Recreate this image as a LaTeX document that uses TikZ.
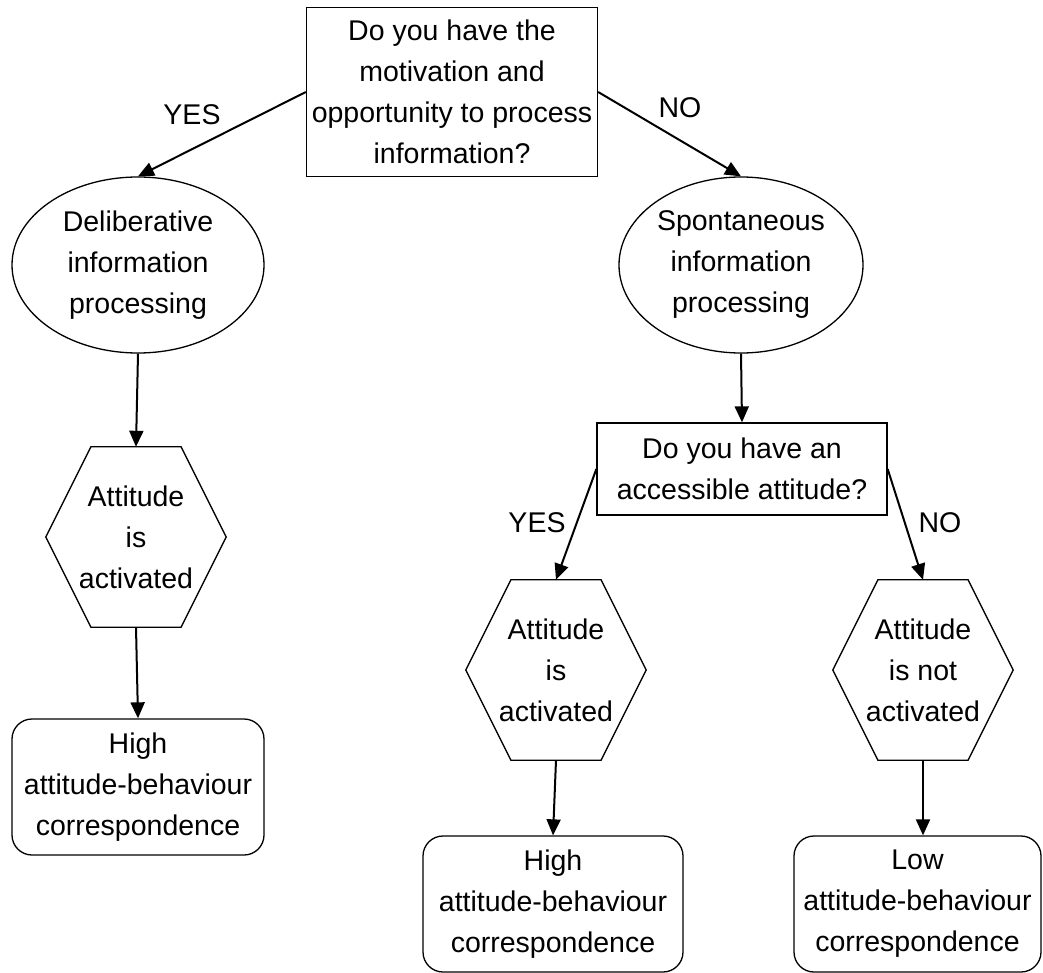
\documentclass[tikz,border=0pt]{standalone}
\usepackage{fontspec}
\setmainfont{Liberation Sans}
\usetikzlibrary{shapes.geometric,arrows.meta,calc}

\tikzset{
  box/.style={draw, rectangle, line width=1.3pt, inner sep=2pt, align=center},
  blob/.style={draw, ellipse, line width=1.3pt, inner sep=0pt, align=center},
  hexa/.style={rectangle, inner sep=0pt, minimum width=180pt, minimum height=180pt, align=center},
  endbox/.style={draw, rectangle, rounded corners=20pt, line width=1.3pt, inner sep=2pt,
    minimum height=136pt, align=center},
  arr/.style={line width=2pt, -{Triangle[length=16pt,width=14pt]}}
}

\begin{document}
\begin{tikzpicture}[x=1pt,y=-1pt,font=\fontsize{28.5}{41}\selectfont]
\useasboundingbox (0,0) rectangle (1043,973);

\node[box, minimum width=291pt, minimum height=169pt] (q1) at (452,92)
  {Do you have the\\motivation and\\opportunity to process\\information?};

\node[blob, minimum width=252pt, minimum height=176pt] (delib) at (138,265)
  {Deliberative\\information\\processing};
\node[blob, minimum width=244pt, minimum height=176pt] (spont) at (741,265)
  {Spontaneous\\information\\processing};

\node[hexa] (hexL) at (136,537) {Attitude\\is\\activated};
\node[box, minimum width=290pt, minimum height=92pt] (q2) at (742,469)
  {Do you have an\\accessible attitude?};
\node[hexa] (hexM) at (556,670) {Attitude\\is\\activated};
\node[hexa] (hexR) at (923,670) {Attitude\\is not\\activated};

% hexagon outlines
\foreach \h in {hexL,hexM,hexR}
  \draw[line width=1.3pt] ($(\h.north west)!0.25!(\h.north east)$)
    -- ($(\h.north west)!0.75!(\h.north east)$) -- (\h.east)
    -- ($(\h.south west)!0.75!(\h.south east)$)
    -- ($(\h.south west)!0.25!(\h.south east)$) -- (\h.west) -- cycle;

\node[endbox, minimum width=252pt] (highL) at (138,787)
  {High\\attitude-behaviour\\correspondence};
\node[endbox, minimum width=260pt] (highM) at (553,904)
  {High\\attitude-behaviour\\correspondence};
\node[endbox, minimum width=247pt] (low) at (917.5,904)
  {Low\\attitude-behaviour\\correspondence};

\draw[arr] (q1.west) -- (delib.north);
\draw[arr] (q1.east) -- (spont.north);
\draw[arr] (delib.south) -- (hexL.north);
\draw[arr] (hexL.south) -- (highL.north);
\draw[arr] (spont.south) -- (q2.north);
\draw[arr] (q2.west) -- (hexM.north);
\draw[arr] (q2.east) -- (hexR.north);
\draw[arr] (hexM.south) -- (highM.north);
\draw[arr] (hexR.south) -- (hexR.south |- low.north);

\node (yes1) at (192,115) {YES};
\node (no1) at (680,108) {NO};
\node (yes2) at (537,523) {YES};
\node (no2) at (940,523) {NO};
\end{tikzpicture}
\end{document}
